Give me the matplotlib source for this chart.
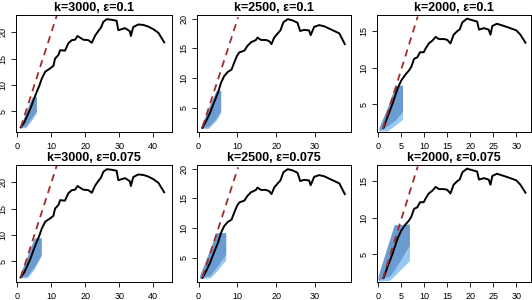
import numpy as np
import matplotlib.pyplot as plt

plt.rcParams['font.family'] = ['Liberation Sans', 'DejaVu Sans']

# black curves, one per k
k3000_x = [1.0, 2.0, 3.0, 4.0, 4.7, 5.8, 6.5, 7.2, 8.2, 9.6, 10.6, 11.1, 12.1, 12.6, 14.0, 15.0, 16.0,
           17.0, 17.7, 18.4, 19.4, 20.9, 21.9, 22.9, 24.0, 24.6, 25.3, 26.3, 27.7, 29.2, 29.7, 30.7,
           31.7, 33.1, 33.4, 34.1, 35.6, 37.1, 38.5, 40.0, 41.5, 43.2]
k3000_y = [1.9, 2.8, 4.2, 5.7, 7.0, 8.8, 9.9, 11.2, 12.5, 13.1, 13.6, 15.0, 15.7, 16.6, 16.5, 17.9, 18.5,
           18.6, 19.3, 19.0, 18.6, 18.5, 18.0, 19.4, 20.4, 20.9, 22.0, 22.5, 22.4, 22.2, 20.4, 20.6,
           20.8, 20.2, 19.3, 21.0, 21.5, 21.4, 21.1, 20.6, 19.9, 18.1]

k2500_x = [1.0, 2.0, 3.0, 4.0, 5.0, 5.8, 6.6, 7.5, 8.5, 9.2, 9.9, 10.5, 11.8, 12.6, 13.5, 14.8, 15.2,
           16.1, 17.4, 18.2, 18.8, 19.5, 20.4, 21.1, 21.9, 23.0, 24.2, 25.5, 26.2, 27.2, 28.5, 28.9,
           29.8, 31.1, 32.4, 33.7, 35.0, 36.3, 37.7]
k2500_y = [1.6, 2.8, 4.2, 5.9, 7.5, 9.2, 10.3, 11.0, 11.4, 12.6, 13.7, 14.3, 14.6, 15.4, 16.0, 16.4, 16.8,
           16.4, 16.4, 16.2, 15.7, 16.8, 17.5, 18.0, 19.4, 19.9, 19.7, 19.3, 17.9, 18.1, 18.0, 17.2,
           18.6, 18.9, 18.7, 18.3, 17.9, 17.5, 15.7]

k2000_x = [1.15, 2.0, 3.1, 4.2, 5.0, 6.0, 6.7, 7.2, 7.8, 8.5, 9.1, 9.9, 10.3, 11.0, 11.8, 12.5, 13.2,
           14.3, 15.0, 15.7, 16.4, 17.2, 17.7, 18.3, 19.3, 20.4, 21.5, 21.9, 23.0, 24.0, 24.4, 24.8,
           25.8, 27.3, 28.7, 30.0, 30.9, 32.0]
k2000_y = [1.7, 3.2, 5.0, 7.1, 8.2, 9.1, 9.6, 10.1, 11.2, 11.4, 12.1, 12.1, 12.6, 13.3, 13.7, 14.2, 13.9,
           13.9, 13.8, 13.3, 14.5, 15.0, 15.2, 16.2, 16.7, 16.5, 16.3, 15.2, 15.4, 15.2, 14.5, 15.7,
           16.0, 15.7, 15.4, 15.1, 14.5, 13.4]

curves_x = [k3000_x, k2500_x, k2000_x]
curves_y = [k3000_y, k2500_y, k2000_y]

# red dashed reference line: two points per k
line_x = [[1.0, 12.0], [1.0, 10.2], [1.0, 8.6]]
line_y = [[1.9, 24.0], [1.7, 20.2], [1.6, 17.0]]

k_labels = ['3000', '2500', '2000']
eps_labels = ['0.1', '0.075']

# bands: [row][col] -> x points, upper, dark lower, light lower
band_x = [[[0.8, 2.5, 4.3, 5.6], [0.5, 2.5, 4.5, 5.7], [0.2, 2.0, 3.7, 5.3]],
          [[0.5, 3.0, 5.0, 7.0], [0.2, 3.0, 4.5, 7.0], [0.0, 2.5, 3.5, 6.8]]]
band_hi = [[[1.9, 4.8, 7.6, 7.8], [1.6, 4.9, 7.8, 7.9], [1.8, 4.5, 7.5, 7.6]],
           [[2.0, 6.0, 9.4, 9.4], [1.8, 6.5, 9.2, 9.2], [2.0, 7.0, 9.0, 9.1]]]
band_lo_dark = [[[1.8, 2.2, 3.8, 5.0], [1.6, 1.8, 3.2, 4.5], [1.4, 2.0, 2.8, 4.0]],
                [[1.8, 2.2, 4.0, 6.2], [1.6, 2.0, 3.3, 5.6], [1.4, 2.0, 2.8, 6.2]]]
band_lo_light = [[[1.8, 1.8, 3.3, 4.6], [1.5, 1.5, 2.8, 4.1], [1.3, 1.3, 2.1, 2.9]],
                 [[1.8, 1.8, 3.5, 5.9], [1.5, 1.6, 2.6, 4.6], [1.3, 1.4, 2.0, 4.1]]]

xlims = [(-0.4, 45.5), (-0.4, 39.3), (-0.25, 33.2)]
ylims = [(1.0, 23.3), (0.9, 20.6), (1.17, 17.2)]
xticks = [[0, 10, 20, 30, 40], [0, 10, 20, 30], [0, 5, 10, 15, 20, 25, 30]]
yticks = [[5, 10, 15, 20], [5, 10, 15, 20], [5, 10, 15]]

fig = plt.figure(figsize=(5.32, 3.0), dpi=100)
lefts = [16 / 532, 197 / 532, 377 / 532]
widths = [156 / 532, 154 / 532, 154 / 532]
bottoms = [168 / 300, 18 / 300]
height = 117 / 300

for r in range(2):
    for c in range(3):
        ax = fig.add_axes([lefts[c], bottoms[r], widths[c], height])
        bx = band_x[r][c]
        ax.fill_between(bx, band_lo_light[r][c], band_hi[r][c], color='#98C9F4', lw=0)
        ax.fill_between(bx, band_lo_dark[r][c], band_hi[r][c], color='#6C9BD0', lw=0)
        ax.plot(curves_x[c], curves_y[c], color='black', lw=1.4)
        ax.plot(line_x[c], line_y[c], color='#A52A2A', lw=1.3, ls=(0, (4, 3)))
        ax.set_xlim(xlims[c])
        ax.set_ylim(ylims[c])
        ax.set_xticks(xticks[c])
        ax.set_yticks(yticks[c])
        ax.tick_params(labelsize=6.5, length=3.5, width=0.6, direction='out')
        ax.tick_params(axis='x', pad=3.5)
        ax.tick_params(axis='y', pad=2.5)
        for lab in ax.get_yticklabels():
            lab.set_rotation(90)
            lab.set_va('center')
        for s in ax.spines.values():
            s.set_linewidth(0.7)
        ax.set_title('k=%s, \u03b5=%s' % (k_labels[c], eps_labels[r]),
                     fontsize=9, fontweight='bold', pad=3)

fig.savefig('out.png', dpi=100)
